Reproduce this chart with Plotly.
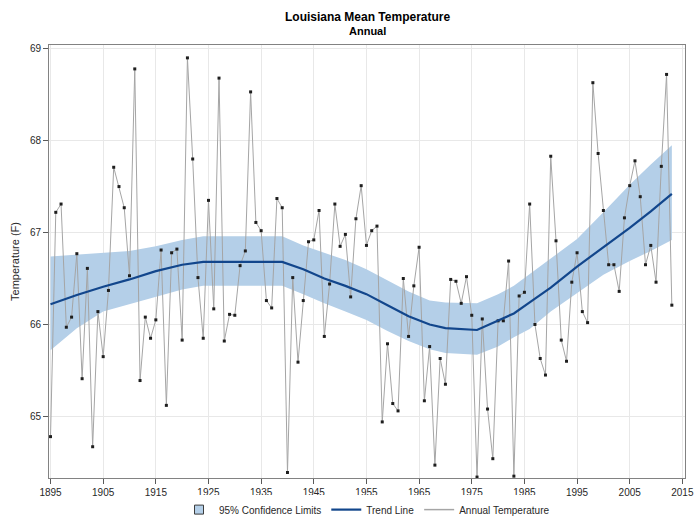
import plotly.graph_objects as go

years = list(range(1895, 2014))
temps = [
    64.78, 67.22, 67.31, 65.97, 66.08, 66.77, 65.41, 66.61, 64.67, 66.14,  # 1895-1904
    65.65, 66.37, 67.71, 67.50, 67.27, 66.53, 68.78, 65.39, 66.08, 65.85,  # 1905-1914
    66.05, 66.81, 65.12, 66.78, 66.82, 65.83, 68.90, 67.80, 66.51, 65.85,  # 1915-1924
    67.35, 66.17, 68.68, 65.82, 66.11, 66.10, 66.64, 66.80, 68.53, 67.11,  # 1925-1934
    67.02, 66.26, 66.18, 67.37, 67.27, 64.39, 66.51, 65.59, 66.26, 66.90,  # 1935-1944
    66.92, 67.24, 65.87, 66.44, 67.31, 66.85, 66.98, 66.30, 67.15, 67.51,  # 1945-1954
    66.86, 67.02, 67.07, 64.94, 65.79, 65.14, 65.06, 66.50, 65.87, 66.42,  # 1955-1964
    66.84, 65.17, 65.76, 64.47, 65.63, 65.35, 66.49, 66.47, 66.23, 66.52,  # 1965-1974
    66.10, 64.34, 66.06, 65.08, 64.54, 66.04, 66.04, 66.69, 64.35, 66.31,  # 1975-1984
    66.35, 67.31, 66.00, 65.63, 65.45, 67.83, 66.91, 65.83, 65.60, 66.46,  # 1985-1994
    66.78, 66.14, 66.02, 68.63, 67.86, 67.24, 66.65, 66.65, 66.36, 67.16,  # 1995-2004
    67.51, 67.78, 67.39, 66.65, 66.86, 66.46, 67.72, 68.72, 66.21,         # 2005-2013
]

trend_years = [1895, 1900, 1905, 1910, 1915, 1920, 1924, 1930, 1939, 1943, 1947,
               1951, 1955, 1959, 1963, 1967, 1970, 1976, 1980, 1983, 1986, 1990,
               1995, 2000, 2005, 2009, 2013]
trend = [66.22, 66.32, 66.41, 66.49, 66.58, 66.65, 66.68, 66.68, 66.68, 66.60, 66.50,
         66.42, 66.33, 66.21, 66.09, 66.00, 65.96, 65.94, 66.04, 66.12, 66.24, 66.40,
         66.63, 66.84, 67.05, 67.23, 67.42]
upper = [66.74, 66.76, 66.78, 66.80, 66.85, 66.92, 66.96, 66.96, 66.96, 66.86, 66.78,
         66.70, 66.60, 66.48, 66.36, 66.26, 66.24, 66.23, 66.33, 66.42, 66.55, 66.72,
         66.93, 67.22, 67.52, 67.74, 67.95]
lower = [65.72, 65.96, 66.14, 66.22, 66.30, 66.38, 66.42, 66.42, 66.42, 66.33, 66.23,
         66.14, 66.05, 65.93, 65.82, 65.73, 65.69, 65.67, 65.76, 65.86, 65.95, 66.14,
         66.34, 66.54, 66.69, 66.80, 66.92]

x_ticks = list(range(1895, 2016, 10))
y_ticks = [65, 66, 67, 68, 69]

FONT = "Arial, Liberation Sans, sans-serif"
BAND = "rgb(180,207,232)"
TREND = "rgb(18,70,140)"
GRAY = "rgb(165,165,165)"

fig = go.Figure()
fig.add_trace(go.Scatter(x=trend_years, y=lower, mode="lines", line=dict(width=0, color=BAND),
                         showlegend=False, hoverinfo="skip"))
fig.add_trace(go.Scatter(x=trend_years, y=upper, mode="lines", line=dict(width=0, color=BAND),
                         fill="tonexty", fillcolor=BAND, showlegend=False, hoverinfo="skip"))
fig.add_trace(go.Scatter(x=[None], y=[None], mode="markers", name="95% Confidence Limits",
                         marker=dict(symbol="square", size=9, color=BAND,
                                     line=dict(color="rgb(60,60,60)", width=1))))
fig.add_trace(go.Scatter(x=years, y=temps, mode="lines", line=dict(color=GRAY, width=1),
                         showlegend=False))
fig.add_trace(go.Scatter(x=years, y=temps, mode="markers",
                         marker=dict(symbol="square", size=3, color="rgb(30,30,30)"),
                         showlegend=False))
fig.add_trace(go.Scatter(x=trend_years, y=trend, mode="lines", name="Trend Line",
                         line=dict(color=TREND, width=2.2)))
fig.add_trace(go.Scatter(x=[None], y=[None], mode="lines", name="Annual Temperature",
                         line=dict(color=GRAY, width=1.5)))

fig.update_layout(
    width=700, height=525,
    margin=dict(l=49, r=15, t=45, b=47, autoexpand=False),
    paper_bgcolor="white", plot_bgcolor="white",
    font=dict(family=FONT, size=10, color="rgb(40,40,40)"),
    showlegend=True,
    legend=dict(orientation="h", x=0.5, xanchor="center", y=-0.073, yanchor="middle",
                font=dict(size=10, family=FONT), itemwidth=30,
                traceorder="normal"),
    annotations=[
        dict(text="<b>Louisiana Mean Temperature</b>", x=0.5, y=1.0646, xref="paper",
             yref="paper", showarrow=False, xanchor="center", yanchor="middle",
             font=dict(size=12, family=FONT, color="black")),
        dict(text="<b>Annual</b>", x=0.5, y=1.032, xref="paper", yref="paper",
             showarrow=False, xanchor="center", yanchor="middle",
             font=dict(size=11, family=FONT, color="black")),
    ],
)
fig.update_xaxes(range=[1894.71, 2015.5], tickvals=x_ticks, ticks="outside", ticklen=5,
                 tickcolor="rgb(90,90,90)", showgrid=True, gridcolor="rgb(232,232,232)",
                 showline=True, linecolor="rgb(130,130,130)", linewidth=1, mirror=True,
                 zeroline=False, tickfont=dict(size=10), automargin=False)
fig.update_yaxes(range=[64.33, 69.04], tickvals=y_ticks, ticks="outside", ticklen=5,
                 tickcolor="rgb(90,90,90)", showgrid=True, gridcolor="rgb(232,232,232)",
                 showline=True, linecolor="rgb(130,130,130)", linewidth=1, mirror=True,
                 zeroline=False, tickfont=dict(size=10), automargin=False,
                 title=dict(text="Temperature (F)", font=dict(size=11), standoff=8))

fig.write_html("out.html", config={"displayModeBar": False},
               post_script="document.body.style.margin='0px';")
